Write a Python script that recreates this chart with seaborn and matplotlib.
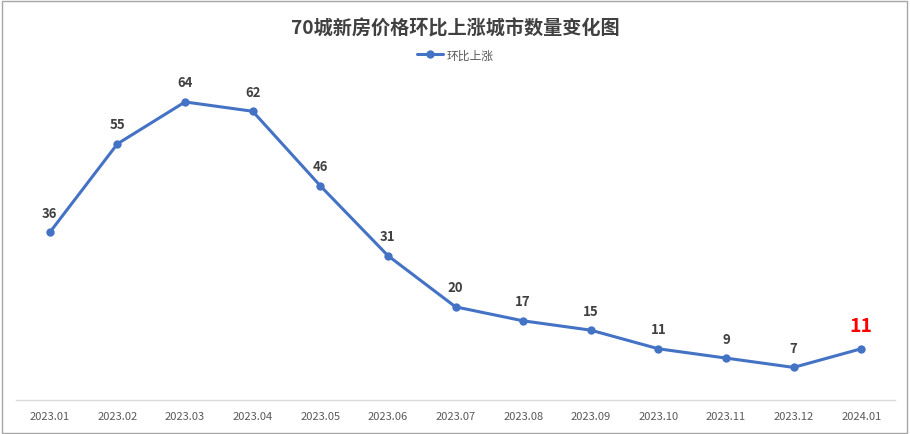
import pandas as pd
import seaborn as sns
import matplotlib.pyplot as plt
from matplotlib.patches import Rectangle

months = ["2023.01", "2023.02", "2023.03", "2023.04", "2023.05", "2023.06", "2023.07",
          "2023.08", "2023.09", "2023.10", "2023.11", "2023.12", "2024.01"]
values = [36, 55, 64, 62, 46, 31, 20, 17, 15, 11, 9, 7, 11]
series_name = "环比上涨"
title = "70城新房价格环比上涨城市数量变化图"

sns.set_style("white")
plt.rcParams['font.family'] = ['Noto Sans CJK SC', 'DejaVu Sans']

blue = "#4472C4"
df = pd.DataFrame({"month": months, series_name: values})

fig = plt.figure(figsize=(9.1, 4.35), dpi=100, facecolor='white')
ax = fig.add_axes([16 / 910, 34 / 435, 879 / 910, 326 / 435])

sns.lineplot(ax=ax, data=df, x="month", y=series_name, sort=False, color=blue,
             linewidth=2.2, marker='o', markersize=6, markeredgewidth=0,
             label=series_name, legend=False)

ax.set_xlim(-0.5, len(months) - 0.5)
ax.set_ylim(0, 70)
ax.set_yticks([])
ax.set_xlabel("")
ax.set_ylabel("")
for side in ["left", "right", "top"]:
    ax.spines[side].set_visible(False)
ax.spines["bottom"].set_color("#D9D9D9")
ax.spines["bottom"].set_linewidth(1)
ax.tick_params(axis='x', length=0, pad=8, labelsize=8, labelcolor="#595959")

# data labels
for i, v in enumerate(values):
    if i == len(values) - 1:
        ax.annotate(str(v), (i, v), xytext=(0, 10), textcoords='offset points',
                    ha='center', va='bottom', fontsize=14, fontweight='bold', color='#FF0000')
    else:
        ax.annotate(str(v), (i, v), xytext=(0, 9), textcoords='offset points',
                    ha='center', va='bottom', fontsize=9.5, fontweight='bold', color='#404040')

fig.text(0.5, 1 - 29 / 435, title, ha='center', va='center', fontsize=13.8,
         fontweight='heavy', color='#404040')

handles, labels = ax.get_legend_handles_labels()
leg = fig.legend(handles, labels, loc='center', bbox_to_anchor=(0.5, 1 - 56 / 435),
                 frameon=False, fontsize=8.5, handlelength=2.2, handletextpad=0.3)
for t in leg.get_texts():
    t.set_color('#595959')

fig.patches.append(Rectangle((0.002, 0.003), 0.995, 0.993, transform=fig.transFigure,
                             fill=False, edgecolor='#A6A6A6', linewidth=1))

fig.savefig("out.png", dpi=100, facecolor='white')
